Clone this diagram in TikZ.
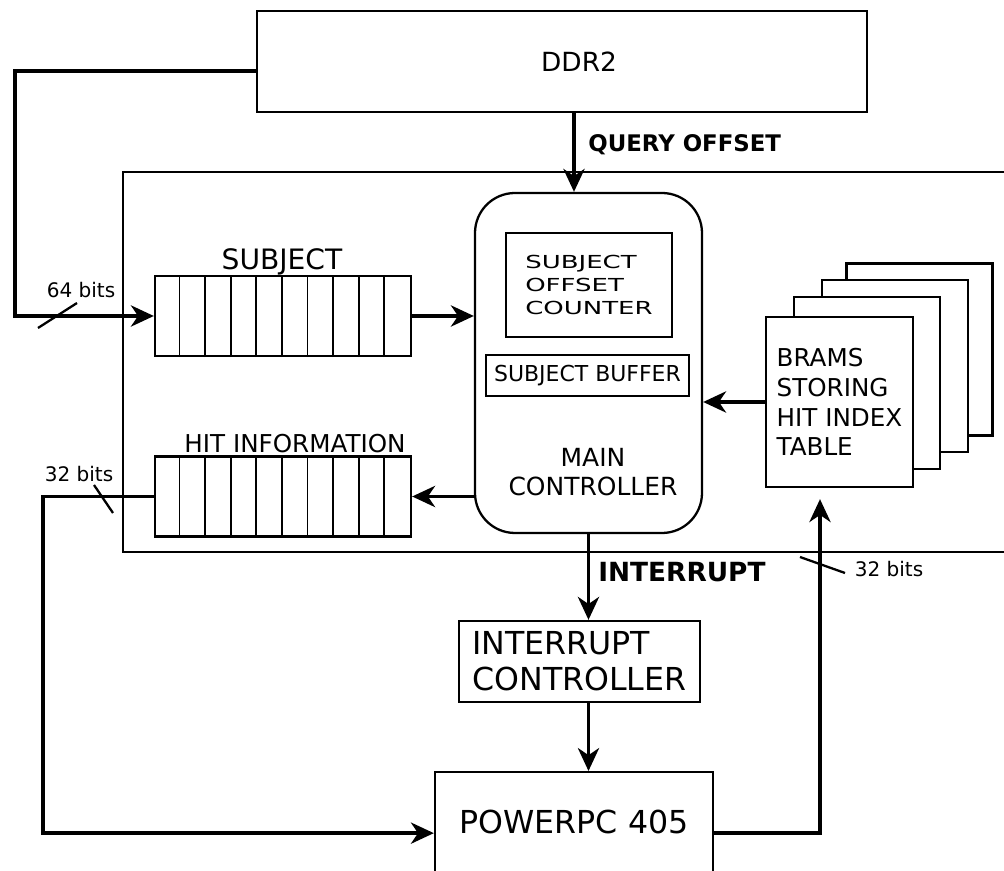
\documentclass[tikz,border=0pt]{standalone}
\usepackage{fontspec}
\setmainfont{DejaVu Sans}
\newfontfamily\widefont[FakeStretch=1.45]{DejaVu Sans}
\usetikzlibrary{arrows.meta,positioning}

\tikzset{
  box/.style={draw, line width=1.3pt, inner sep=0pt, fill=white},
  wire/.style={line width=2.2pt, -{Stealth[length=13pt,width=12pt,inset=4pt]}},
  slash/.style={line width=1.3pt},
  tag/.style={inner sep=0pt, font=\fontsize{14}{17}\selectfont},
  bits/.style={inner sep=0pt, font=\fontsize{11.4}{13}\selectfont}
}

\begin{document}
\begin{tikzpicture}
\useasboundingbox (0,0) rectangle (20.08,-17.42);

% FPGA fabric, open to the right
\draw[line width=1pt] (20.5,-3.44) -- (2.46,-3.44) -- (2.46,-11.04) -- (20.5,-11.04);

\node[box, minimum width=12.2cm, minimum height=2.02cm, font=\fontsize{15}{18}\selectfont] (ddr) at (11.24,-1.23) {\hspace*{0.68cm}DDR2};

% the two shift registers
\node[box, minimum width=5.12cm, minimum height=1.6cm] (subq) at (5.66,-6.32) {};
\node[box, minimum width=5.12cm, minimum height=1.6cm] (hitq) at (5.66,-9.93) {};
\foreach \q in {subq,hitq}
  \foreach \i in {1,...,9}
    \draw[line width=1pt] ([xshift=\i*0.512cm]\q.south west) -- ([xshift=\i*0.512cm]\q.north west);
\node[tag, anchor=base, font=\fontsize{16}{19}\selectfont] (subqname) at (5.64,-5.40) {SUBJECT};
\node[tag, anchor=base] (hitqname) at (5.90,-9.06) {HIT INFORMATION};

% main controller and its parts
\node[box, rounded corners=0.8cm, minimum width=4.54cm, minimum height=6.8cm] (main) at (11.77,-7.26) {};
\node[box, line width=1pt, minimum width=3.32cm, minimum height=2.08cm, align=left,
      font=\widefont\fontsize{10.2}{13}\selectfont] (cnt) at (11.78,-5.70) {SUBJECT\\OFFSET\\COUNTER};
\node[box, minimum width=4.06cm, minimum height=0.82cm, font=\fontsize{12.5}{15}\selectfont] (buf) at (11.75,-7.51) {SUBJECT BUFFER};
\node[align=center, inner sep=0pt, font=\fontsize{14.2}{16.5}\selectfont] (mainname) at (11.86,-9.44) {MAIN\\CONTROLLER};

% stack of BRAMs, back ones first
\foreach \dx/\dy [count=\k] in {1.6/1.05, 1.11/0.72, 0.55/0.38}
  \node[box, minimum width=2.92cm, minimum height=3.44cm] (page\k) at (16.79+\dx,-8.04+\dy) {};
\node[box, minimum width=2.94cm, minimum height=3.4cm, align=left,
      font=\fontsize{14}{17}\selectfont] (bram) at (16.79,-8.04) {BRAMS\\STORING\\HIT INDEX\\TABLE};

\node[box, minimum width=4.82cm, minimum height=1.62cm, align=left,
      font=\fontsize{18}{20.5}\selectfont] (intc) at (11.59,-13.23) {INTERRUPT\\CONTROLLER};
\node[box, minimum width=5.56cm, minimum height=2.44cm, anchor=north, text depth=0.44cm,
      font=\fontsize{18}{21}\selectfont] (ppc) at (11.48,-15.42) {POWERPC 405};

% connections
\draw[wire] ([yshift=-0.19cm]ddr.west) -- ++(-4.82,0) |- (subq.west);
\draw[wire] (subq.east) -- (subq.east -| main.west);
\draw[wire] ([xshift=0.24cm]ddr.south) -- ([xshift=0.24cm]ddr.south |- main.north);
\draw[wire] (bram.west) -- (bram.west -| main.east);
\draw[wire] (hitq.east -| main.west) -- (hitq.east);
\draw[wire] (hitq.west) -- ++(-2.22,0) |- (ppc.west);
\draw[wire] (main.south) -- (main.south |- intc.north);
\draw[wire] (intc.south -| main.south) -- (ppc.north -| main.south);
\draw[wire] (ppc.east) -| ([xshift=-0.39cm,yshift=-0.22cm]bram.south);

\node[tag, anchor=base west, font=\bfseries\fontsize{13}{15}\selectfont] (qlbl) at (11.76,-3.04) {QUERY OFFSET};
\node[tag, anchor=base west, font=\bfseries\fontsize{15}{17}\selectfont] (irqlbl) at (11.96,-11.64) {INTERRUPT};

% bus widths
\draw[slash] (0.76,-6.56) -- (1.54,-6.06);
\node[bits, anchor=base] (w64) at (1.62,-5.96) {64 bits};
\draw[slash] (1.88,-9.70) -- (2.26,-10.26);
\node[bits, anchor=base] (w32a) at (1.58,-9.64) {32 bits};
\draw[slash] (16.0,-11.14) -- (16.9,-11.46);
\node[bits, anchor=base] (w32b) at (17.78,-11.54) {32 bits};
\end{tikzpicture}
\end{document}
